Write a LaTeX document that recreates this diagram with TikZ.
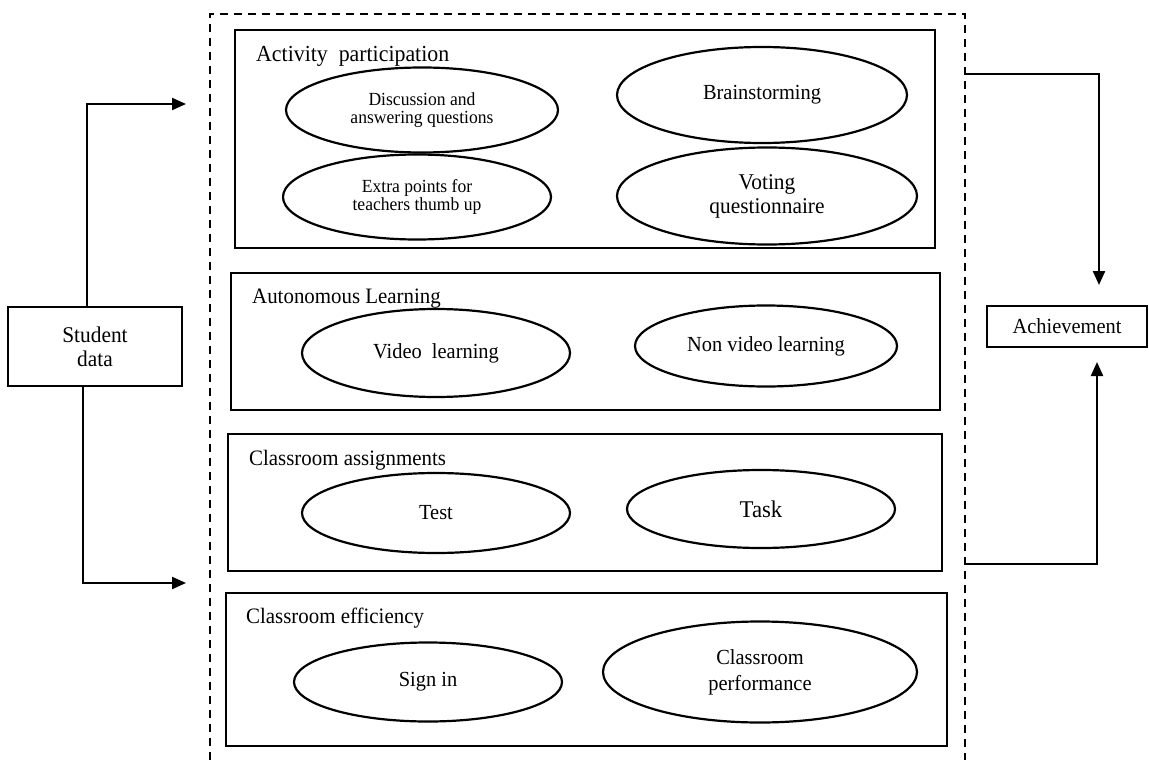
\documentclass[tikz,border=0pt]{standalone}
\usepackage{fontspec}
\setmainfont{Liberation Serif}[FakeStretch=0.95]
\usetikzlibrary{shapes.geometric,arrows.meta}
\begin{document}
\begin{tikzpicture}[x=1pt,y=-1pt,
  grpbox/.style={draw,line width=1.2pt,rectangle,inner sep=0pt},
  ttl/.style={inner sep=0pt,anchor=base west,font=\fontsize{22}{25}\selectfont},
  oval/.style={ellipse,draw,line width=2.2pt,inner sep=0pt,align=center,font=\fontsize{21.5}{24}\selectfont},
  ovalsmall/.style={oval,font=\fontsize{18.5}{18.4}\selectfont},
  sidebox/.style={draw,line width=1.2pt,rectangle,inner sep=0pt,align=center,font=\fontsize{22.5}{24}\selectfont},
  arr/.style={line width=2.2pt,-{Triangle[length=14pt,width=12pt]}},
  frame/.style={line width=2pt,dash pattern=on 8pt off 6pt}]
\useasboundingbox (0,0) rectangle (1149,760);

% dashed frame
\coordinate (fBL) at (210,760);
\coordinate (fTL) at (210,14);
\coordinate (fTR) at (965,14);
\coordinate (fBR) at (965,760);
\draw[frame] (fBL) -- (fTL) -- (fTR) -- (fBR);

% group boxes
\node[grpbox,minimum width=700pt,minimum height=218pt] (act) at (585,139) {};
\node[grpbox,minimum width=709pt,minimum height=137pt] (auto) at (585.5,341.5) {};
\node[grpbox,minimum width=714pt,minimum height=137pt] (assign) at (585,502.5) {};
\node[grpbox,minimum width=721pt,minimum height=153pt] (eff) at (586.5,669.5) {};

% titles
\node[ttl,font=\fontsize{23}{25}\selectfont] (actt) at (256,62) {Activity\ \ participation};
\node[ttl] (autot) at (252,303) {Autonomous Learning};
\node[ttl] (assignt) at (249,465) {Classroom assignments};
\node[ttl] (efft) at (246,623) {Classroom efficiency};

% ellipses
\node[ovalsmall,minimum width=272pt,minimum height=85pt] (disc) at (422,110) {Discussion and\\answering questions};
\node[ovalsmall,minimum width=268pt,minimum height=85pt] (extra) at (417,197) {Extra points for\\teachers thumb up};
\node[oval,minimum width=290pt,minimum height=96pt] (brain) at (762,95) {Brainstorming};
\node[oval,minimum width=300pt,minimum height=97pt,font=\fontsize{22.5}{24}\selectfont] (vote) at (767,196) {Voting\\questionnaire};
\node[oval,minimum width=268pt,minimum height=88pt] (video) at (436,353) {Video\ \ learning};
\node[oval,minimum width=262pt,minimum height=81pt] (nonvideo) at (766,346) {Non video learning};
\node[oval,minimum width=268pt,minimum height=80pt] (test) at (436,513) {Test};
\node[oval,minimum width=268pt,minimum height=78pt,font=\fontsize{24}{26}\selectfont] (task) at (761,509) {Task};
\node[oval,minimum width=268pt,minimum height=79pt] (signin) at (428,682) {Sign in};
\node[oval,minimum width=314pt,minimum height=101pt,font=\fontsize{21.5}{26}\selectfont] (perf) at (760,672) {Classroom\\performance};

% side boxes
\node[sidebox,minimum width=174pt,minimum height=79pt] (sd) at (95,346.5) {Student\\data};
\node[sidebox,minimum width=160pt,minimum height=41pt,font=\fontsize{21.5}{24}\selectfont] (ach) at (1067,326.5) {Achievement};

% connectors
\coordinate (inA) at (186,104);
\coordinate (inB) at (186,583);
\coordinate (outA) at (965,74);
\coordinate (outB) at (965,564);
\coordinate (tipA) at (1099,285);
\coordinate (tipB) at (1097,362);
\draw[arr] ([xshift=-8pt]sd.north) |- (inA);
\draw[arr] ([xshift=-12pt]sd.south) |- (inB);
\draw[arr] (outA) -| (tipA);
\draw[arr] (outB) -| (tipB);
\end{tikzpicture}
\end{document}
